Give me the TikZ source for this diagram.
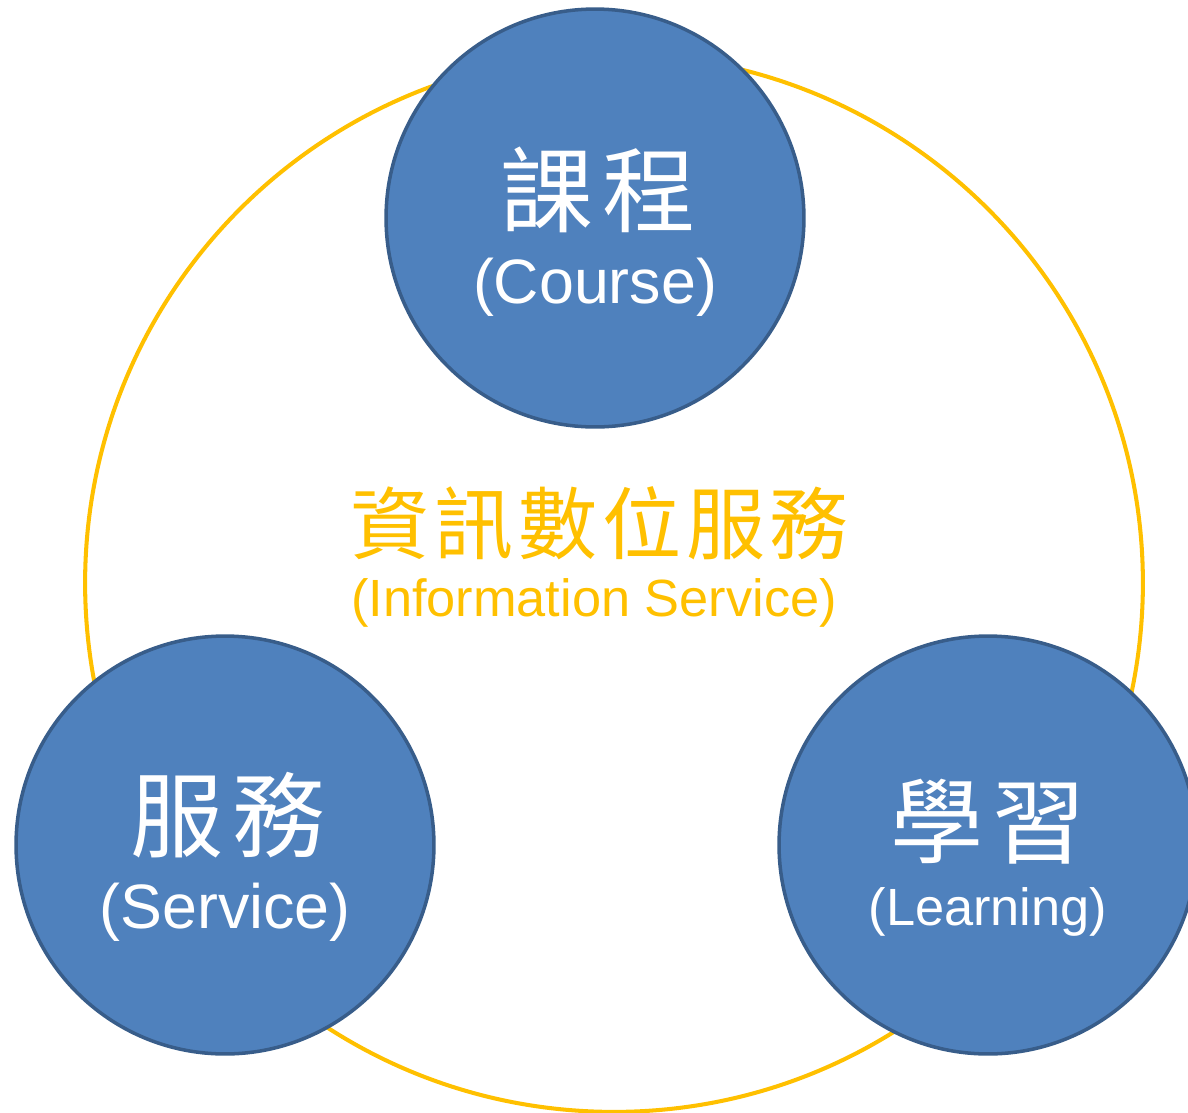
\documentclass[tikz,border=0pt]{standalone}
\usepackage{fontspec}
\setmainfont{Liberation Sans}
\newfontfamily\cjk{Noto Sans CJK TC}
\newfontfamily\cjkwide[LetterSpace=10]{Noto Sans CJK TC}
\newfontfamily\cjkmid[LetterSpace=6]{Noto Sans CJK TC}
\usepackage{xcolor}
\usetikzlibrary{positioning}
\definecolor{topicblue}{HTML}{4F81BD}
\definecolor{topicedge}{HTML}{385D8A}
\definecolor{ringgold}{HTML}{FFC000}
\newcommand{\zhbig}{\cjkwide\fontsize{53pt}{60pt}\selectfont}
\newcommand{\zhmid}{\cjkmid\fontsize{45pt}{52pt}\selectfont}
\newcommand{\enbig}{\fontsize{35.7pt}{42pt}\selectfont}
\newcommand{\enmid}{\fontsize{29.8pt}{36pt}\selectfont}

\begin{document}
\begin{tikzpicture}[x=0.02cm, y=-0.02cm,
  topic/.style={circle, draw=topicedge, fill=topicblue, line width=2pt, minimum size=8.36cm, inner sep=0pt},
  label/.style={inner sep=0pt, text=white}]
\useasboundingbox (0,0) rectangle (1188,1113);
\clip (0,0) rectangle (1188,1113);
\node (ring) [circle, draw=ringgold, line width=2.3pt, minimum size=21.16cm, inner sep=0pt] at (614,583) {};
\node (infoZh) [inner sep=0pt, text=ringgold] at (600,523) {\zhmid 資訊數位服務};
\node (infoEn) [inner sep=0pt, text=ringgold] at (594,603) {\enmid (Information Service)};

\node (course) [topic] at (595,218) {};
\node (service) [topic] at (225,845) {};
\node (learning) [topic] at (988,845) {};

\node (courseZh) [label] at (598,190) {\zhbig 課程};
\node (courseEn) [label] at (595,287) {\enbig (Course)};
\node (serviceZh) [label] at (228,815) {\zhbig 服務};
\node (serviceEn) [label] at (225,912) {\enbig (Service)};
\node (learningZh) [label] at (988,822) {\zhbig 學習};
\node (learningEn) [label] at (988,912) {\enmid (Learning)};
\end{tikzpicture}
\end{document}
